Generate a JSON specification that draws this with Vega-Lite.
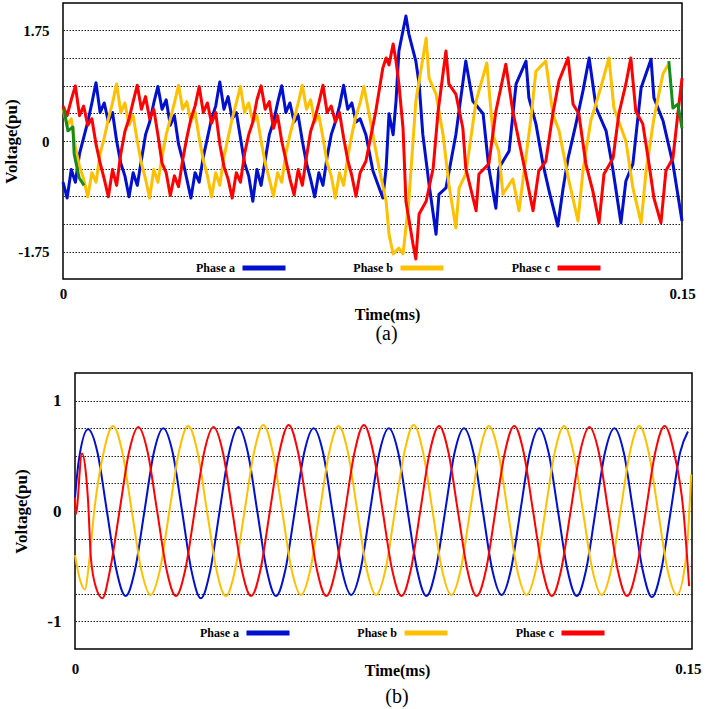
{
"$schema": "https://vega.github.io/schema/vega-lite/v6.json",
"padding": {"left": 0, "top": 2, "right": 0, "bottom": 0},
"spacing": 27,
"resolve": {"scale": {"color": "independent"}},
"config": {
  "font": "Liberation Serif",
  "view": {"stroke": "black", "strokeWidth": 1.5},
  "axis": {"domain": false, "ticks": false, "labelFont": "Liberation Serif", "labelFontWeight": "bold", "titleFont": "Liberation Serif", "titleFontWeight": "bold", "labelColor": "black", "titleColor": "black", "labelOverlap": false, "labelFlush": false}
},
"datasets": {
"a": [
{"p":"Phase a","t":0,"v":-0.65},{"p":"Phase a","t":0.001,"v":-0.9},{"p":"Phase a","t":0.002,"v":-0.45},{"p":"Phase a","t":0.003,"v":-0.65},{"p":"Phase a","t":0.004,"v":-0.2},{"p":"Phase a","t":0.005,"v":0.05},{"p":"Phase a","t":0.006,"v":0.3},{"p":"Phase a","t":0.007,"v":0.6},{"p":"Phase a","t":0.008,"v":0.92},{"p":"Phase a","t":0.009,"v":0.45},{"p":"Phase a","t":0.010,"v":0.6},{"p":"Phase a","t":0.011,"v":0.3},{"p":"Phase a","t":0.012,"v":0.45},{"p":"Phase a","t":0.013,"v":0.0},{"p":"Phase a","t":0.014,"v":-0.35},{"p":"Phase a","t":0.015,"v":-0.55},{"p":"Phase a","t":0.016,"v":-0.88},{"p":"Phase a","t":0.017,"v":-0.5},{"p":"Phase a","t":0.018,"v":-0.7},{"p":"Phase a","t":0.019,"v":-0.3},{"p":"Phase a","t":0.020,"v":0.1},{"p":"Phase a","t":0.021,"v":0.3},{"p":"Phase a","t":0.022,"v":0.6},{"p":"Phase a","t":0.023,"v":0.86},{"p":"Phase a","t":0.024,"v":0.5},{"p":"Phase a","t":0.025,"v":0.65},{"p":"Phase a","t":0.026,"v":0.25},{"p":"Phase a","t":0.027,"v":0.4},{"p":"Phase a","t":0.028,"v":-0.05},{"p":"Phase a","t":0.029,"v":-0.3},{"p":"Phase a","t":0.030,"v":-0.6},{"p":"Phase a","t":0.031,"v":-0.9},{"p":"Phase a","t":0.032,"v":-0.5},{"p":"Phase a","t":0.033,"v":-0.65},{"p":"Phase a","t":0.034,"v":-0.25},{"p":"Phase a","t":0.035,"v":0.05},{"p":"Phase a","t":0.036,"v":0.35},{"p":"Phase a","t":0.037,"v":0.55},{"p":"Phase a","t":0.038,"v":0.93},{"p":"Phase a","t":0.039,"v":0.5},{"p":"Phase a","t":0.040,"v":0.7},{"p":"Phase a","t":0.041,"v":0.35},{"p":"Phase a","t":0.042,"v":0.45},{"p":"Phase a","t":0.043,"v":0.05},{"p":"Phase a","t":0.044,"v":-0.35},{"p":"Phase a","t":0.045,"v":-0.55},{"p":"Phase a","t":0.046,"v":-0.95},{"p":"Phase a","t":0.047,"v":-0.45},{"p":"Phase a","t":0.048,"v":-0.7},{"p":"Phase a","t":0.049,"v":-0.3},{"p":"Phase a","t":0.050,"v":0.1},{"p":"Phase a","t":0.051,"v":0.3},{"p":"Phase a","t":0.052,"v":0.6},{"p":"Phase a","t":0.053,"v":0.87},{"p":"Phase a","t":0.054,"v":0.45},{"p":"Phase a","t":0.055,"v":0.6},{"p":"Phase a","t":0.056,"v":0.3},{"p":"Phase a","t":0.057,"v":0.4},{"p":"Phase a","t":0.058,"v":0.0},{"p":"Phase a","t":0.059,"v":-0.35},{"p":"Phase a","t":0.060,"v":-0.6},{"p":"Phase a","t":0.061,"v":-0.88},{"p":"Phase a","t":0.062,"v":-0.5},{"p":"Phase a","t":0.063,"v":-0.7},{"p":"Phase a","t":0.064,"v":-0.25},{"p":"Phase a","t":0.065,"v":0.1},{"p":"Phase a","t":0.066,"v":0.3},{"p":"Phase a","t":0.067,"v":0.55},{"p":"Phase a","t":0.068,"v":0.88},{"p":"Phase a","t":0.069,"v":0.5},{"p":"Phase a","t":0.070,"v":0.6},{"p":"Phase a","t":0.071,"v":0.3},{"p":"Phase a","t":0.072,"v":0.35},
{"p":"Phase a","t":0.0734,"v":0.1},{"p":"Phase a","t":0.0751,"v":-0.47},{"p":"Phase a","t":0.0775,"v":-0.9},{"p":"Phase a","t":0.0783,"v":-0.43},{"p":"Phase a","t":0.0790,"v":0.43},{"p":"Phase a","t":0.0800,"v":0.1},{"p":"Phase a","t":0.0807,"v":0.63},{"p":"Phase a","t":0.0814,"v":1.42},{"p":"Phase a","t":0.0831,"v":1.97},{"p":"Phase a","t":0.0838,"v":1.69},{"p":"Phase a","t":0.0855,"v":1.26},{"p":"Phase a","t":0.0863,"v":0.9},{"p":"Phase a","t":0.0872,"v":0.1},{"p":"Phase a","t":0.0887,"v":-0.68},{"p":"Phase a","t":0.0904,"v":-1.47},{"p":"Phase a","t":0.0911,"v":-0.84},{"p":"Phase a","t":0.0928,"v":-0.74},{"p":"Phase a","t":0.0952,"v":0.1},{"p":"Phase a","t":0.0976,"v":1.26},{"p":"Phase a","t":0.0993,"v":0.63},{"p":"Phase a","t":0.1018,"v":0.43},{"p":"Phase a","t":0.1032,"v":-0.43},{"p":"Phase a","t":0.1049,"v":-1.06},{"p":"Phase a","t":0.1056,"v":-0.43},{"p":"Phase a","t":0.1081,"v":-0.16},{"p":"Phase a","t":0.1098,"v":0.9},{"p":"Phase a","t":0.1122,"v":1.26},{"p":"Phase a","t":0.1129,"v":0.68},{"p":"Phase a","t":0.1146,"v":0.27},{"p":"Phase a","t":0.1163,"v":-0.36},{"p":"Phase a","t":0.1178,"v":-0.79},{"p":"Phase a","t":0.1199,"v":-1.34},{"p":"Phase a","t":0.1212,"v":-0.74},{"p":"Phase a","t":0.1224,"v":-0.27},{"p":"Phase a","t":0.1243,"v":0.27},{"p":"Phase a","t":0.1260,"v":0.79},{"p":"Phase a","t":0.1275,"v":1.31},{"p":"Phase a","t":0.1292,"v":0.52},{"p":"Phase a","t":0.1316,"v":0.16},{"p":"Phase a","t":0.1333,"v":-0.47},{"p":"Phase a","t":0.1352,"v":-1.29},{"p":"Phase a","t":0.1364,"v":-0.63},{"p":"Phase a","t":0.1381,"v":-0.36},{"p":"Phase a","t":0.1401,"v":0.84},{"p":"Phase a","t":0.1425,"v":1.29},{"p":"Phase a","t":0.1432,"v":0.68},{"p":"Phase a","t":0.1454,"v":0.32},{"p":"Phase a","t":0.1478,"v":-0.36},{"p":"Phase a","t":0.1500,"v":-1.26},
{"p":"Phase b","t":0,"v":0.5},{"p":"Phase b","t":0.001,"v":0.25},{"p":"Phase b","t":0.002,"v":0.35},{"p":"Phase b","t":0.003,"v":-0.1},{"p":"Phase b","t":0.004,"v":-0.4},{"p":"Phase b","t":0.005,"v":-0.6},{"p":"Phase b","t":0.006,"v":-0.88},{"p":"Phase b","t":0.007,"v":-0.5},{"p":"Phase b","t":0.008,"v":-0.65},{"p":"Phase b","t":0.009,"v":-0.2},{"p":"Phase b","t":0.010,"v":0.05},{"p":"Phase b","t":0.011,"v":0.35},{"p":"Phase b","t":0.012,"v":0.6},{"p":"Phase b","t":0.013,"v":0.9},{"p":"Phase b","t":0.014,"v":0.45},{"p":"Phase b","t":0.015,"v":0.6},{"p":"Phase b","t":0.016,"v":0.25},{"p":"Phase b","t":0.017,"v":0.4},{"p":"Phase b","t":0.018,"v":0.0},{"p":"Phase b","t":0.019,"v":-0.35},{"p":"Phase b","t":0.020,"v":-0.6},{"p":"Phase b","t":0.021,"v":-0.9},{"p":"Phase b","t":0.022,"v":-0.45},{"p":"Phase b","t":0.023,"v":-0.65},{"p":"Phase b","t":0.024,"v":-0.25},{"p":"Phase b","t":0.025,"v":0.1},{"p":"Phase b","t":0.026,"v":0.35},{"p":"Phase b","t":0.027,"v":0.6},{"p":"Phase b","t":0.028,"v":0.88},{"p":"Phase b","t":0.029,"v":0.5},{"p":"Phase b","t":0.030,"v":0.62},{"p":"Phase b","t":0.031,"v":0.3},{"p":"Phase b","t":0.032,"v":0.45},{"p":"Phase b","t":0.033,"v":0.05},{"p":"Phase b","t":0.034,"v":-0.3},{"p":"Phase b","t":0.035,"v":-0.55},{"p":"Phase b","t":0.036,"v":-0.88},{"p":"Phase b","t":0.037,"v":-0.5},{"p":"Phase b","t":0.038,"v":-0.7},{"p":"Phase b","t":0.039,"v":-0.25},{"p":"Phase b","t":0.040,"v":0.05},{"p":"Phase b","t":0.041,"v":0.35},{"p":"Phase b","t":0.042,"v":0.6},{"p":"Phase b","t":0.043,"v":0.86},{"p":"Phase b","t":0.044,"v":0.45},{"p":"Phase b","t":0.045,"v":0.6},{"p":"Phase b","t":0.046,"v":0.3},{"p":"Phase b","t":0.047,"v":0.4},{"p":"Phase b","t":0.048,"v":0.0},{"p":"Phase b","t":0.049,"v":-0.35},{"p":"Phase b","t":0.050,"v":-0.6},{"p":"Phase b","t":0.051,"v":-0.87},{"p":"Phase b","t":0.052,"v":-0.5},{"p":"Phase b","t":0.053,"v":-0.65},{"p":"Phase b","t":0.054,"v":-0.2},{"p":"Phase b","t":0.055,"v":0.1},{"p":"Phase b","t":0.056,"v":0.35},{"p":"Phase b","t":0.057,"v":0.6},{"p":"Phase b","t":0.058,"v":0.88},{"p":"Phase b","t":0.059,"v":0.5},{"p":"Phase b","t":0.060,"v":0.65},{"p":"Phase b","t":0.061,"v":0.3},{"p":"Phase b","t":0.062,"v":0.4},{"p":"Phase b","t":0.063,"v":0.05},{"p":"Phase b","t":0.064,"v":-0.35},{"p":"Phase b","t":0.065,"v":-0.55},{"p":"Phase b","t":0.066,"v":-0.9},{"p":"Phase b","t":0.067,"v":-0.5},{"p":"Phase b","t":0.068,"v":-0.7},{"p":"Phase b","t":0.069,"v":-0.25},{"p":"Phase b","t":0.070,"v":0.1},{"p":"Phase b","t":0.071,"v":0.4},{"p":"Phase b","t":0.072,"v":0.6},
{"p":"Phase b","t":0.0729,"v":0.86},{"p":"Phase b","t":0.0741,"v":0.45},{"p":"Phase b","t":0.0751,"v":0.1},{"p":"Phase b","t":0.0766,"v":-0.43},{"p":"Phase b","t":0.0783,"v":-0.95},{"p":"Phase b","t":0.0790,"v":-1.47},{"p":"Phase b","t":0.0800,"v":-1.78},{"p":"Phase b","t":0.0814,"v":-1.69},{"p":"Phase b","t":0.0824,"v":-1.78},{"p":"Phase b","t":0.0838,"v":-0.95},{"p":"Phase b","t":0.0855,"v":0.63},{"p":"Phase b","t":0.0880,"v":1.62},{"p":"Phase b","t":0.0887,"v":0.99},{"p":"Phase b","t":0.0904,"v":0.74},{"p":"Phase b","t":0.0921,"v":0.1},{"p":"Phase b","t":0.0935,"v":-0.68},{"p":"Phase b","t":0.0952,"v":-1.37},{"p":"Phase b","t":0.0960,"v":-0.74},{"p":"Phase b","t":0.0976,"v":-0.52},{"p":"Phase b","t":0.1001,"v":0.63},{"p":"Phase b","t":0.1027,"v":1.23},{"p":"Phase b","t":0.1042,"v":0.1},{"p":"Phase b","t":0.1056,"v":-0.16},{"p":"Phase b","t":0.1066,"v":-0.84},{"p":"Phase b","t":0.1090,"v":-0.6},{"p":"Phase b","t":0.1105,"v":-1.1},{"p":"Phase b","t":0.1134,"v":0.36},{"p":"Phase b","t":0.1146,"v":1.1},{"p":"Phase b","t":0.1170,"v":1.26},{"p":"Phase b","t":0.1187,"v":0.43},{"p":"Phase b","t":0.1202,"v":0.16},{"p":"Phase b","t":0.1226,"v":-0.63},{"p":"Phase b","t":0.1248,"v":-1.26},{"p":"Phase b","t":0.1260,"v":-0.47},{"p":"Phase b","t":0.1279,"v":0.32},{"p":"Phase b","t":0.1303,"v":0.84},{"p":"Phase b","t":0.1323,"v":1.31},{"p":"Phase b","t":0.1335,"v":0.52},{"p":"Phase b","t":0.1364,"v":0.0},{"p":"Phase b","t":0.1381,"v":-0.74},{"p":"Phase b","t":0.1401,"v":-1.29},{"p":"Phase b","t":0.1413,"v":-0.47},{"p":"Phase b","t":0.1432,"v":0.36},{"p":"Phase b","t":0.1454,"v":1.06},{"p":"Phase b","t":0.1466,"v":1.2},
{"p":"Phase c","t":0,"v":0.55},{"p":"Phase c","t":0.001,"v":0.4},{"p":"Phase c","t":0.002,"v":0.65},{"p":"Phase c","t":0.003,"v":0.87},{"p":"Phase c","t":0.004,"v":0.4},{"p":"Phase c","t":0.005,"v":0.55},{"p":"Phase c","t":0.006,"v":0.25},{"p":"Phase c","t":0.007,"v":0.35},{"p":"Phase c","t":0.008,"v":-0.05},{"p":"Phase c","t":0.009,"v":-0.35},{"p":"Phase c","t":0.010,"v":-0.6},{"p":"Phase c","t":0.011,"v":-0.88},{"p":"Phase c","t":0.012,"v":-0.45},{"p":"Phase c","t":0.013,"v":-0.7},{"p":"Phase c","t":0.014,"v":-0.2},{"p":"Phase c","t":0.015,"v":0.15},{"p":"Phase c","t":0.016,"v":0.35},{"p":"Phase c","t":0.017,"v":0.62},{"p":"Phase c","t":0.018,"v":0.88},{"p":"Phase c","t":0.019,"v":0.5},{"p":"Phase c","t":0.020,"v":0.7},{"p":"Phase c","t":0.021,"v":0.35},{"p":"Phase c","t":0.022,"v":0.5},{"p":"Phase c","t":0.023,"v":0.1},{"p":"Phase c","t":0.024,"v":-0.35},{"p":"Phase c","t":0.025,"v":-0.5},{"p":"Phase c","t":0.026,"v":-0.86},{"p":"Phase c","t":0.027,"v":-0.55},{"p":"Phase c","t":0.028,"v":-0.72},{"p":"Phase c","t":0.029,"v":-0.3},{"p":"Phase c","t":0.030,"v":0.05},{"p":"Phase c","t":0.031,"v":0.35},{"p":"Phase c","t":0.032,"v":0.55},{"p":"Phase c","t":0.033,"v":0.86},{"p":"Phase c","t":0.034,"v":0.45},{"p":"Phase c","t":0.035,"v":0.6},{"p":"Phase c","t":0.036,"v":0.28},{"p":"Phase c","t":0.037,"v":0.45},{"p":"Phase c","t":0.038,"v":-0.05},{"p":"Phase c","t":0.039,"v":-0.4},{"p":"Phase c","t":0.040,"v":-0.6},{"p":"Phase c","t":0.041,"v":-0.9},{"p":"Phase c","t":0.042,"v":-0.5},{"p":"Phase c","t":0.043,"v":-0.65},{"p":"Phase c","t":0.044,"v":-0.2},{"p":"Phase c","t":0.045,"v":0.1},{"p":"Phase c","t":0.046,"v":0.3},{"p":"Phase c","t":0.047,"v":0.65},{"p":"Phase c","t":0.048,"v":0.87},{"p":"Phase c","t":0.049,"v":0.5},{"p":"Phase c","t":0.050,"v":0.62},{"p":"Phase c","t":0.051,"v":0.2},{"p":"Phase c","t":0.052,"v":0.4},{"p":"Phase c","t":0.053,"v":0.0},{"p":"Phase c","t":0.054,"v":-0.3},{"p":"Phase c","t":0.055,"v":-0.6},{"p":"Phase c","t":0.056,"v":-0.85},{"p":"Phase c","t":0.057,"v":-0.45},{"p":"Phase c","t":0.058,"v":-0.7},{"p":"Phase c","t":0.059,"v":-0.25},{"p":"Phase c","t":0.060,"v":0.15},{"p":"Phase c","t":0.061,"v":0.35},{"p":"Phase c","t":0.062,"v":0.6},{"p":"Phase c","t":0.063,"v":0.88},{"p":"Phase c","t":0.064,"v":0.45},{"p":"Phase c","t":0.065,"v":0.55},{"p":"Phase c","t":0.066,"v":0.3},{"p":"Phase c","t":0.067,"v":0.45},{"p":"Phase c","t":0.068,"v":0.05},{"p":"Phase c","t":0.069,"v":-0.3},{"p":"Phase c","t":0.070,"v":-0.55},{"p":"Phase c","t":0.071,"v":-0.87},{"p":"Phase c","t":0.072,"v":-0.5},
{"p":"Phase c","t":0.0734,"v":-0.32},{"p":"Phase c","t":0.0758,"v":0.47},{"p":"Phase c","t":0.0775,"v":1.15},{"p":"Phase c","t":0.0783,"v":1.31},{"p":"Phase c","t":0.0790,"v":1.2},{"p":"Phase c","t":0.0800,"v":1.53},{"p":"Phase c","t":0.0807,"v":1.26},{"p":"Phase c","t":0.0814,"v":0.9},{"p":"Phase c","t":0.0824,"v":0.2},{"p":"Phase c","t":0.0831,"v":-0.95},{"p":"Phase c","t":0.0848,"v":-1.62},{"p":"Phase c","t":0.0855,"v":-1.86},{"p":"Phase c","t":0.0863,"v":-1.15},{"p":"Phase c","t":0.0880,"v":-0.95},{"p":"Phase c","t":0.0897,"v":-0.43},{"p":"Phase c","t":0.0909,"v":0.47},{"p":"Phase c","t":0.0928,"v":1.42},{"p":"Phase c","t":0.0935,"v":0.9},{"p":"Phase c","t":0.0952,"v":0.74},{"p":"Phase c","t":0.0969,"v":0.2},{"p":"Phase c","t":0.0976,"v":-0.43},{"p":"Phase c","t":0.1001,"v":-1.1},{"p":"Phase c","t":0.1008,"v":-0.52},{"p":"Phase c","t":0.1032,"v":-0.36},{"p":"Phase c","t":0.1049,"v":0.47},{"p":"Phase c","t":0.1073,"v":1.21},{"p":"Phase c","t":0.1090,"v":0.47},{"p":"Phase c","t":0.1115,"v":-0.32},{"p":"Phase c","t":0.1139,"v":-1.1},{"p":"Phase c","t":0.1153,"v":-0.47},{"p":"Phase c","t":0.1170,"v":-0.32},{"p":"Phase c","t":0.1187,"v":0.43},{"p":"Phase c","t":0.1202,"v":0.95},{"p":"Phase c","t":0.1224,"v":1.31},{"p":"Phase c","t":0.1236,"v":0.58},{"p":"Phase c","t":0.1250,"v":0.43},{"p":"Phase c","t":0.1267,"v":-0.36},{"p":"Phase c","t":0.1284,"v":-0.79},{"p":"Phase c","t":0.1299,"v":-1.29},{"p":"Phase c","t":0.1311,"v":-0.52},{"p":"Phase c","t":0.1333,"v":-0.27},{"p":"Phase c","t":0.1347,"v":0.43},{"p":"Phase c","t":0.1364,"v":0.9},{"p":"Phase c","t":0.1376,"v":1.31},{"p":"Phase c","t":0.1388,"v":0.47},{"p":"Phase c","t":0.1405,"v":0.27},{"p":"Phase c","t":0.1420,"v":-0.36},{"p":"Phase c","t":0.1432,"v":-0.9},{"p":"Phase c","t":0.1449,"v":-1.29},{"p":"Phase c","t":0.1461,"v":-0.47},{"p":"Phase c","t":0.1478,"v":-0.27},{"p":"Phase c","t":0.1490,"v":0.43},{"p":"Phase c","t":0.1500,"v":0.99},
{"p":"g1","t":0.0002,"v":0.5},{"p":"g1","t":0.0012,"v":0.16},{"p":"g1","t":0.0024,"v":0.22},{"p":"g1","t":0.0027,"v":-0.2},{"p":"g1","t":0.0039,"v":-0.58},{"p":"g1","t":0.0051,"v":-0.7},
{"p":"g2","t":0.1468,"v":1.26},{"p":"g2","t":0.1478,"v":0.52},{"p":"g2","t":0.1490,"v":0.58},{"p":"g2","t":0.1500,"v":0.2}
],
"b": [
{"p":"Phase a","t":0,"v":0.12},{"p":"Phase a","t":0.0009,"v":0.45},{"p":"Phase a","t":0.0032,"v":0.74},{"p":"Phase a","t":0.0055,"v":0.53},{"p":"Phase a","t":0.0078,"v":0},{"p":"Phase a","t":0.0101,"v":-0.53},{"p":"Phase a","t":0.0124,"v":-0.77},{"p":"Phase a","t":0.0147,"v":-0.53},{"p":"Phase a","t":0.0170,"v":0},{"p":"Phase a","t":0.0193,"v":0.53},{"p":"Phase a","t":0.0216,"v":0.75},{"p":"Phase a","t":0.0239,"v":0.53},{"p":"Phase a","t":0.0262,"v":0},{"p":"Phase a","t":0.0285,"v":-0.54},{"p":"Phase a","t":0.0308,"v":-0.79},{"p":"Phase a","t":0.0331,"v":-0.54},{"p":"Phase a","t":0.0354,"v":0},{"p":"Phase a","t":0.0377,"v":0.53},{"p":"Phase a","t":0.0400,"v":0.76},{"p":"Phase a","t":0.0423,"v":0.53},{"p":"Phase a","t":0.0446,"v":0},{"p":"Phase a","t":0.0469,"v":-0.53},{"p":"Phase a","t":0.0492,"v":-0.77},{"p":"Phase a","t":0.0515,"v":-0.53},{"p":"Phase a","t":0.0538,"v":0},{"p":"Phase a","t":0.0561,"v":0.53},{"p":"Phase a","t":0.0584,"v":0.75},{"p":"Phase a","t":0.0607,"v":0.53},{"p":"Phase a","t":0.0630,"v":0},{"p":"Phase a","t":0.0653,"v":-0.53},{"p":"Phase a","t":0.0676,"v":-0.76},{"p":"Phase a","t":0.0699,"v":-0.53},{"p":"Phase a","t":0.0722,"v":0},{"p":"Phase a","t":0.0745,"v":0.53},{"p":"Phase a","t":0.0768,"v":0.75},{"p":"Phase a","t":0.0791,"v":0.53},{"p":"Phase a","t":0.0814,"v":0},{"p":"Phase a","t":0.0837,"v":-0.53},{"p":"Phase a","t":0.0860,"v":-0.77},{"p":"Phase a","t":0.0883,"v":-0.53},{"p":"Phase a","t":0.0906,"v":0},{"p":"Phase a","t":0.0929,"v":0.53},{"p":"Phase a","t":0.0952,"v":0.75},{"p":"Phase a","t":0.0975,"v":0.53},{"p":"Phase a","t":0.0998,"v":0},{"p":"Phase a","t":0.1021,"v":-0.53},{"p":"Phase a","t":0.1044,"v":-0.76},{"p":"Phase a","t":0.1067,"v":-0.53},{"p":"Phase a","t":0.1090,"v":0},{"p":"Phase a","t":0.1113,"v":0.53},{"p":"Phase a","t":0.1136,"v":0.75},{"p":"Phase a","t":0.1159,"v":0.53},{"p":"Phase a","t":0.1182,"v":0},{"p":"Phase a","t":0.1205,"v":-0.53},{"p":"Phase a","t":0.1228,"v":-0.77},{"p":"Phase a","t":0.1251,"v":-0.53},{"p":"Phase a","t":0.1274,"v":0},{"p":"Phase a","t":0.1297,"v":0.53},{"p":"Phase a","t":0.1320,"v":0.75},{"p":"Phase a","t":0.1343,"v":0.53},{"p":"Phase a","t":0.1366,"v":0},{"p":"Phase a","t":0.1389,"v":-0.53},{"p":"Phase a","t":0.1412,"v":-0.78},{"p":"Phase a","t":0.1435,"v":-0.53},{"p":"Phase a","t":0.1458,"v":0},{"p":"Phase a","t":0.1481,"v":0.53},{"p":"Phase a","t":0.1500,"v":0.72},
{"p":"Phase b","t":0,"v":-0.4},{"p":"Phase b","t":0.0012,"v":-0.62},{"p":"Phase b","t":0.0024,"v":-0.71},{"p":"Phase b","t":0.0035,"v":-0.45},{"p":"Phase b","t":0.0047,"v":0},{"p":"Phase b","t":0.0070,"v":0.53},{"p":"Phase b","t":0.0093,"v":0.77},{"p":"Phase b","t":0.0116,"v":0.53},{"p":"Phase b","t":0.0139,"v":0},{"p":"Phase b","t":0.0162,"v":-0.53},{"p":"Phase b","t":0.0185,"v":-0.76},{"p":"Phase b","t":0.0208,"v":-0.53},{"p":"Phase b","t":0.0231,"v":0},{"p":"Phase b","t":0.0254,"v":0.53},{"p":"Phase b","t":0.0277,"v":0.77},{"p":"Phase b","t":0.0300,"v":0.53},{"p":"Phase b","t":0.0323,"v":0},{"p":"Phase b","t":0.0346,"v":-0.53},{"p":"Phase b","t":0.0369,"v":-0.77},{"p":"Phase b","t":0.0392,"v":-0.53},{"p":"Phase b","t":0.0415,"v":0},{"p":"Phase b","t":0.0438,"v":0.53},{"p":"Phase b","t":0.0461,"v":0.78},{"p":"Phase b","t":0.0484,"v":0.53},{"p":"Phase b","t":0.0507,"v":0},{"p":"Phase b","t":0.0530,"v":-0.53},{"p":"Phase b","t":0.0553,"v":-0.76},{"p":"Phase b","t":0.0576,"v":-0.53},{"p":"Phase b","t":0.0599,"v":0},{"p":"Phase b","t":0.0622,"v":0.53},{"p":"Phase b","t":0.0645,"v":0.77},{"p":"Phase b","t":0.0668,"v":0.53},{"p":"Phase b","t":0.0691,"v":0},{"p":"Phase b","t":0.0714,"v":-0.53},{"p":"Phase b","t":0.0737,"v":-0.76},{"p":"Phase b","t":0.0760,"v":-0.53},{"p":"Phase b","t":0.0783,"v":0},{"p":"Phase b","t":0.0806,"v":0.53},{"p":"Phase b","t":0.0829,"v":0.78},{"p":"Phase b","t":0.0852,"v":0.53},{"p":"Phase b","t":0.0875,"v":0},{"p":"Phase b","t":0.0898,"v":-0.53},{"p":"Phase b","t":0.0921,"v":-0.76},{"p":"Phase b","t":0.0944,"v":-0.53},{"p":"Phase b","t":0.0967,"v":0},{"p":"Phase b","t":0.0990,"v":0.53},{"p":"Phase b","t":0.1013,"v":0.77},{"p":"Phase b","t":0.1036,"v":0.53},{"p":"Phase b","t":0.1059,"v":0},{"p":"Phase b","t":0.1082,"v":-0.53},{"p":"Phase b","t":0.1105,"v":-0.76},{"p":"Phase b","t":0.1128,"v":-0.53},{"p":"Phase b","t":0.1151,"v":0},{"p":"Phase b","t":0.1174,"v":0.53},{"p":"Phase b","t":0.1197,"v":0.77},{"p":"Phase b","t":0.1220,"v":0.53},{"p":"Phase b","t":0.1243,"v":0},{"p":"Phase b","t":0.1266,"v":-0.53},{"p":"Phase b","t":0.1289,"v":-0.76},{"p":"Phase b","t":0.1312,"v":-0.53},{"p":"Phase b","t":0.1335,"v":0},{"p":"Phase b","t":0.1358,"v":0.53},{"p":"Phase b","t":0.1381,"v":0.77},{"p":"Phase b","t":0.1404,"v":0.53},{"p":"Phase b","t":0.1427,"v":0},{"p":"Phase b","t":0.1450,"v":-0.53},{"p":"Phase b","t":0.1473,"v":-0.76},{"p":"Phase b","t":0.1496,"v":-0.4},{"p":"Phase b","t":0.1508,"v":0.33},
{"p":"Phase c","t":0,"v":0.12},{"p":"Phase c","t":0.0002,"v":-0.03},{"p":"Phase c","t":0.0017,"v":0.52},{"p":"Phase c","t":0.0027,"v":0.33},{"p":"Phase c","t":0.0032,"v":0.09},{"p":"Phase c","t":0.0039,"v":-0.43},{"p":"Phase c","t":0.0052,"v":-0.7},{"p":"Phase c","t":0.0067,"v":-0.79},{"p":"Phase c","t":0.0086,"v":-0.53},{"p":"Phase c","t":0.0109,"v":0},{"p":"Phase c","t":0.0132,"v":0.53},{"p":"Phase c","t":0.0155,"v":0.76},{"p":"Phase c","t":0.0178,"v":0.53},{"p":"Phase c","t":0.0201,"v":0},{"p":"Phase c","t":0.0224,"v":-0.53},{"p":"Phase c","t":0.0247,"v":-0.77},{"p":"Phase c","t":0.0270,"v":-0.53},{"p":"Phase c","t":0.0293,"v":0},{"p":"Phase c","t":0.0316,"v":0.53},{"p":"Phase c","t":0.0339,"v":0.76},{"p":"Phase c","t":0.0362,"v":0.53},{"p":"Phase c","t":0.0385,"v":0},{"p":"Phase c","t":0.0408,"v":-0.53},{"p":"Phase c","t":0.0431,"v":-0.77},{"p":"Phase c","t":0.0454,"v":-0.53},{"p":"Phase c","t":0.0477,"v":0},{"p":"Phase c","t":0.0500,"v":0.53},{"p":"Phase c","t":0.0523,"v":0.78},{"p":"Phase c","t":0.0546,"v":0.53},{"p":"Phase c","t":0.0569,"v":0},{"p":"Phase c","t":0.0592,"v":-0.53},{"p":"Phase c","t":0.0615,"v":-0.77},{"p":"Phase c","t":0.0638,"v":-0.53},{"p":"Phase c","t":0.0661,"v":0},{"p":"Phase c","t":0.0684,"v":0.53},{"p":"Phase c","t":0.0707,"v":0.78},{"p":"Phase c","t":0.0730,"v":0.53},{"p":"Phase c","t":0.0753,"v":0},{"p":"Phase c","t":0.0776,"v":-0.53},{"p":"Phase c","t":0.0799,"v":-0.77},{"p":"Phase c","t":0.0822,"v":-0.53},{"p":"Phase c","t":0.0845,"v":0},{"p":"Phase c","t":0.0868,"v":0.53},{"p":"Phase c","t":0.0891,"v":0.77},{"p":"Phase c","t":0.0914,"v":0.53},{"p":"Phase c","t":0.0937,"v":0},{"p":"Phase c","t":0.0960,"v":-0.53},{"p":"Phase c","t":0.0983,"v":-0.77},{"p":"Phase c","t":0.1006,"v":-0.53},{"p":"Phase c","t":0.1029,"v":0},{"p":"Phase c","t":0.1052,"v":0.53},{"p":"Phase c","t":0.1075,"v":0.77},{"p":"Phase c","t":0.1098,"v":0.53},{"p":"Phase c","t":0.1121,"v":0},{"p":"Phase c","t":0.1144,"v":-0.53},{"p":"Phase c","t":0.1167,"v":-0.77},{"p":"Phase c","t":0.1190,"v":-0.53},{"p":"Phase c","t":0.1213,"v":0},{"p":"Phase c","t":0.1236,"v":0.53},{"p":"Phase c","t":0.1259,"v":0.76},{"p":"Phase c","t":0.1282,"v":0.53},{"p":"Phase c","t":0.1305,"v":0},{"p":"Phase c","t":0.1328,"v":-0.53},{"p":"Phase c","t":0.1351,"v":-0.77},{"p":"Phase c","t":0.1374,"v":-0.53},{"p":"Phase c","t":0.1397,"v":0},{"p":"Phase c","t":0.1420,"v":0.53},{"p":"Phase c","t":0.1443,"v":0.77},{"p":"Phase c","t":0.1466,"v":0.53},{"p":"Phase c","t":0.1489,"v":0},{"p":"Phase c","t":0.1503,"v":-0.68}
]
},
"vconcat": [
{
  "hconcat": [
    {"width": 1, "height": 276, "data": {"values": []}, "mark": "point", "view": {"stroke": null}},
    {
      "width": 619, "height": 276,
      "data": {"name": "a"},
      "title": {"text": "(a)", "orient": "bottom", "font": "Liberation Serif", "fontSize": 20, "fontWeight": "normal", "color": "black", "anchor": "middle", "frame": "group", "dx": 14, "offset": 2},
      "mark": {"type": "line", "strokeWidth": 3, "strokeJoin": "round"},
      "encoding": {
        "x": {"field": "t", "type": "quantitative", "scale": {"domain": [0, 0.15], "nice": false, "zero": false},
          "axis": {"values": [0, 0.15], "labelExpr": "datum.value == 0 ? '0' : '0.15'", "grid": false, "title": "Time(ms)", "labelFontSize": 15, "labelBaseline": "middle", "labelPadding": 14.5, "titleFontSize": 16, "titleX": 324, "titleY": 35, "titleBaseline": "middle", "titleAlign": "center"}},
        "y": {"field": "v", "type": "quantitative", "scale": {"domain": [-2.176, 2.176], "nice": false, "zero": false},
          "axis": {"values": [-1.75, -1.3125, -0.875, -0.4375, 0, 0.4375, 0.875, 1.3125, 1.75], "labelExpr": "datum.value == 1.75 ? '1.75' : datum.value == 0 ? '0' : datum.value == -1.75 ? '-1.75' : ''", "grid": true, "gridColor": "#222222", "gridDash": [1.5, 1.5], "gridWidth": 1.2, "title": "Voltage(pu)", "titleFontSize": 17, "titleX": -52, "titleBaseline": "middle", "labelFontSize": 15, "labelPadding": 14}},
        "color": {"field": "p", "type": "nominal",
          "scale": {"domain": ["Phase a", "Phase b", "Phase c", "g1", "g2"], "range": ["#0010cc", "#ffc000", "#ff0000", "#1a8a1a", "#1a8a1a"]},
          "legend": {"values": ["Phase a", "Phase b", "Phase c"], "orient": "none", "legendX": 177, "legendY": 241, "direction": "horizontal", "title": null, "symbolType": "stroke", "symbolStrokeWidth": 5, "symbolSize": 1849, "labelFont": "Liberation Serif", "labelFontSize": 12, "labelFontWeight": "bold", "labelColor": "black", "labelAlign": "right", "labelOffset": -53, "columnPadding": 57, "padding": 0}}
      }
    }
  ],
  "spacing": 0,
  "resolve": {"scale": {"color": "independent"}}
},
{
  "hconcat": [
    {"width": 11, "height": 276, "data": {"values": []}, "mark": "point", "view": {"stroke": null}},
    {
      "width": 617, "height": 276,
      "data": {"name": "b"},
      "title": {"text": "(b)", "orient": "bottom", "font": "Liberation Serif", "fontSize": 20, "fontWeight": "normal", "color": "black", "anchor": "middle", "frame": "group", "dx": 13.5, "offset": 9},
      "mark": {"type": "line", "strokeWidth": 2, "interpolate": "monotone"},
      "encoding": {
        "x": {"field": "t", "type": "quantitative", "scale": {"domain": [0, 0.151], "nice": false, "zero": false},
          "axis": {"values": [0, 0.15], "labelExpr": "datum.value == 0 ? '0' : '0.15'", "grid": false, "title": "Time(ms)", "labelFontSize": 15, "labelBaseline": "middle", "labelPadding": 19, "titleFontSize": 16, "titleX": 322, "titleY": 21, "titleBaseline": "middle", "titleAlign": "center"}},
        "y": {"field": "v", "type": "quantitative", "scale": {"domain": [-1.25, 1.25], "nice": false, "zero": false},
          "axis": {"values": [-1, -0.75, -0.5, -0.25, 0, 0.25, 0.5, 0.75, 1], "labelExpr": "datum.value == 1 ? '1' : datum.value == 0 ? '0' : datum.value == -1 ? '-1' : ''", "grid": true, "gridColor": "#222222", "gridDash": [1.5, 1.5], "gridWidth": 1.2, "title": "Voltage(pu)", "titleFontSize": 17, "titleX": -54, "titleBaseline": "middle", "labelFontSize": 17, "labelPadding": 14}},
        "color": {"field": "p", "type": "nominal",
          "scale": {"domain": ["Phase a", "Phase b", "Phase c"], "range": ["#0010cc", "#ffc000", "#ff0000"]},
          "legend": {"orient": "none", "legendX": 169, "legendY": 236, "direction": "horizontal", "title": null, "symbolType": "stroke", "symbolStrokeWidth": 5, "symbolSize": 1849, "labelFont": "Liberation Serif", "labelFontSize": 12, "labelFontWeight": "bold", "labelColor": "black", "labelAlign": "right", "labelOffset": -53, "columnPadding": 57, "padding": 0}}
      }
    }
  ],
  "spacing": 0,
  "resolve": {"scale": {"color": "independent"}}
}
]
}
